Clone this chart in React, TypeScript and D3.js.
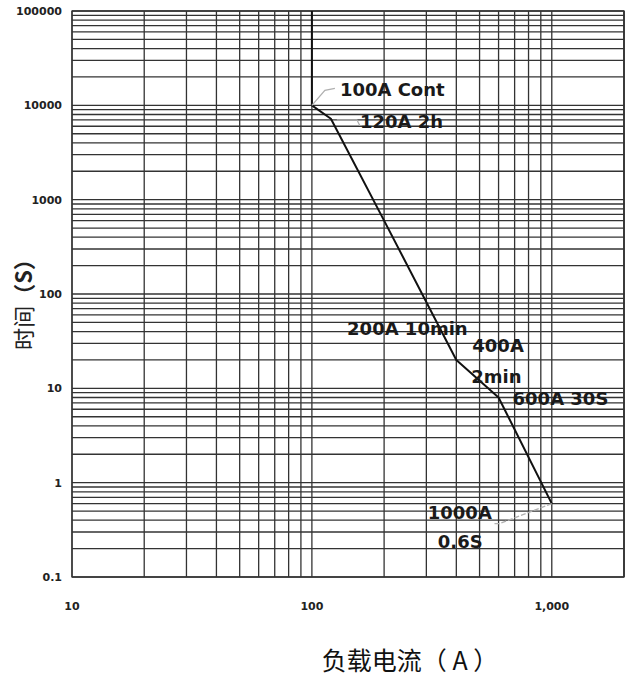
import React from 'react';
import * as d3 from 'd3';

// curve
const currents = [100, 100, 120, 200, 400, 600, 1000];
const times = [100000, 10000, 7200, 600, 20, 8, 0.6];

const yTicks = [0.1, 1, 10, 100, 1000, 10000, 100000];
const yTickLabels = ['0.1', '1', '10', '100', '1000', '10000', '100000'];
const xTicks = [10, 100, 1000];
const xTickLabels = ['10', '100', '1,000'];

const labelText = [['100A Cont'], ['120A 2h'], ['200A 10min'], ['400A', '2min'], ['600A 30S'], ['1000A', '0.6S']];
const labelPoint = [1, 2, 3, 4, 5, 6];

// layout of the annotations, px offsets from their curve point
const labelLayout = [
  { lines: [[28, -9]], leader: [[0, 0], [13, -15], [23, -17]], dash: false },
  { lines: [[29, 9]], leader: [[6, 1], [26, 1], [29, 7]], dash: false },
  { lines: [[-37, 114]], leader: null, dash: false },
  { lines: [[16, -8], [15, 23]], leader: null, dash: false },
  { lines: [[14, 8]], leader: null, dash: false },
  { lines: [[-124, 15], [-114, 44]], leader: [[0, 0], [-52, 20], [-58, 20]], dash: true },
];

const W = 629;
const H = 678;
const left = 72, right = 624, top = 11, bottom = 577;

export default function App() {
  const x = d3.scaleLog().domain([10, 2000]).range([left, right]);
  const y = d3.scaleLog().domain([0.1, 100000]).range([bottom, top]);

  const xGrid: number[] = [];
  for (let d = 10; d < 2000; d *= 10) for (let k = 1; k <= 9; k++) if (k * d <= 2000) xGrid.push(k * d);
  xGrid.push(2000);
  const yGrid: number[] = [];
  for (let d = 0.1; d < 100000; d *= 10) for (let k = 1; k <= 9; k++) yGrid.push(k * d);
  yGrid.push(100000);

  const pts: [number, number][] = currents.map((c, i) => [x(c), y(times[i])]);
  const line = d3.line();
  const gridColor = '#333';
  const font = '"DejaVu Sans", sans-serif';

  return (
    <svg width={W} height={H} style={{ position: 'absolute', left: 0, top: 0, background: '#fff' }}>
      <rect x={0} y={0} width={W} height={H} fill="#fff" />
      <g>
        {yGrid.map((v, i) => (
          <line key={'y' + i} x1={left} x2={right} y1={y(v)} y2={y(v)} stroke={gridColor} strokeWidth={1.3} />
        ))}
        {xGrid.map((v, i) => (
          <line key={'x' + i} x1={x(v)} x2={x(v)} y1={top} y2={bottom} stroke={gridColor} strokeWidth={1.3} />
        ))}
        <rect x={left} y={top} width={right - left} height={bottom - top} fill="none" stroke={gridColor} strokeWidth={1.3} />
      </g>

      <path d={line(pts) || ''} fill="none" stroke="#111" strokeWidth={2} strokeLinejoin="round" />

      {labelLayout.map((l, i) => {
        const [px, py] = pts[labelPoint[i]];
        return (
          <g key={'lab' + i}>
            {l.leader && (
              <polyline
                points={l.leader.map(([dx, dy]) => `${px + dx},${py + dy}`).join(' ')}
                fill="none"
                stroke="#b0b0b0"
                strokeWidth={1.3}
                strokeDasharray={l.dash ? '5 2' : undefined}
              />
            )}
            {labelText[i].map((t, j) => (
              <text
                key={j}
                x={px + l.lines[j][0]}
                y={py + l.lines[j][1]}
                fontFamily={font}
                fontWeight="bold"
                fontSize={18}
                fill="#1a1a1a"
              >
                {t}
              </text>
            ))}
          </g>
        );
      })}

      {yTicks.map((v, i) => (
        <text key={'yt' + i} x={62} y={y(v)} dy="0.36em" textAnchor="end" fontFamily={font} fontWeight="bold" fontSize={11} fill="#222">
          {yTickLabels[i]}
        </text>
      ))}
      {xTicks.map((v, i) => (
        <text key={'xt' + i} x={x(v)} y={610} textAnchor="middle" fontFamily={font} fontWeight="bold" fontSize={11} fill="#222">
          {xTickLabels[i]}
        </text>
      ))}

      <text
        transform="translate(32,299) rotate(-90)"
        textAnchor="middle"
        fontFamily='"Noto Sans CJK SC", sans-serif'
        fontSize={22}
        fill="#222"
      >
        时间<tspan fontWeight="bold">（S）</tspan>
      </text>
      <text x={410} y={670} textAnchor="middle" fontFamily='"Noto Sans CJK SC", sans-serif' fontSize={25} fill="#111">
        负载电流（ A ）
      </text>
    </svg>
  );
}
